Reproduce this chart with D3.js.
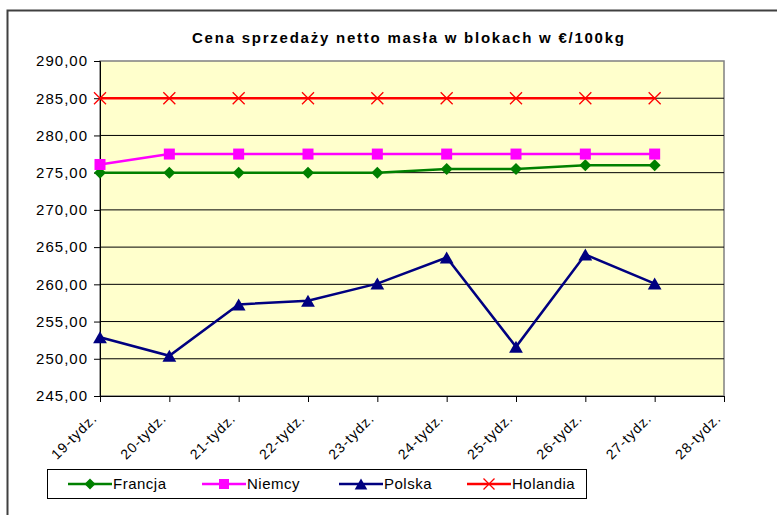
<!DOCTYPE html>
<html>
<head>
<meta charset="utf-8">
<script src="https://cdn.jsdelivr.net/npm/d3@7"></script>
<style>
  body { margin: 0; background: #fff; }
  text { font-family: "Liberation Sans", Arial, sans-serif; }
</style>
</head>
<body>
<div id="chart"></div>
<script>
const weeks = ["19-tydz.", "20-tydz.", "21-tydz.", "22-tydz.", "23-tydz.",
  "24-tydz.", "25-tydz.", "26-tydz.", "27-tydz.", "28-tydz."];
const francja = [275, 275, 275, 275, 275, 275.5, 275.5, 276, 276];
const niemcy = [276.1, 277.5, 277.5, 277.5, 277.5, 277.5, 277.5, 277.5, 277.5];
const polska = [252.9, 250.4, 257.3, 257.8, 260.1, 263.6, 251.6, 264.0, 260.1];
const holandia = [285, 285, 285, 285, 285, 285, 285, 285, 285];
const yTicks = [245, 250, 255, 260, 265, 270, 275, 280, 285, 290];

const series = [
  { name: "Francja", values: francja, color: "#008000", marker: "diamond" },
  { name: "Niemcy", values: niemcy, color: "#ff00ff", marker: "square" },
  { name: "Polska", values: polska, color: "#000080", marker: "triangle" },
  { name: "Holandia", values: holandia, color: "#ff0000", marker: "cross" }
];

const width = 777, height = 515;
const plot = { left: 100, top: 61, right: 724, bottom: 396 };

const svg = d3.select("#chart").append("svg")
  .attr("width", width).attr("height", height);

// outer chart frame (bottom runs off the page)
svg.append("path")
  .attr("d", `M7.5,${height + 5}V10.5H${width + 5}`)
  .attr("fill", "none").attr("stroke", "#404040").attr("stroke-width", 2);

const x = d3.scalePoint().domain(weeks).range([plot.left, plot.right]);
const y = d3.scaleLinear().domain([245, 290]).range([plot.bottom, plot.top]);

svg.append("rect")
  .attr("x", plot.left).attr("y", plot.top)
  .attr("width", plot.right - plot.left).attr("height", plot.bottom - plot.top)
  .attr("fill", "#ffffcc").attr("stroke", "#808080").attr("stroke-width", 1.5);

svg.append("g").selectAll("line")
  .data(yTicks.slice(1, -1))
  .enter().append("line")
  .attr("x1", plot.left).attr("x2", plot.right)
  .attr("y1", (d) => y(d)).attr("y2", (d) => y(d))
  .attr("stroke", "#000").attr("stroke-width", 1);

const fmt = (d) => d.toFixed(2).replace(".", ",");

const yAxis = svg.append("g")
  .attr("transform", `translate(${plot.left},0)`)
  .call(d3.axisLeft(y).tickValues(yTicks).tickFormat(fmt).tickSize(6).tickPadding(6));
yAxis.select(".domain").attr("stroke", "#000");
yAxis.selectAll("text")
  .attr("font-size", 15).attr("fill", "#000")
  .style("letter-spacing", "1px")
  .attr("font-family", "Liberation Sans, Arial, sans-serif");

const xAxis = svg.append("g")
  .attr("transform", `translate(0,${plot.bottom})`)
  .call(d3.axisBottom(x).tickSize(6).tickSizeOuter(0));
xAxis.select(".domain").attr("stroke", "#000");
xAxis.selectAll("text")
  .attr("font-size", 14).attr("fill", "#000")
  .attr("font-family", "Liberation Sans, Arial, sans-serif")
  .style("letter-spacing", "1px")
  .attr("text-anchor", "end")
  .attr("dx", 0).attr("dy", 0)
  .attr("transform", "translate(-9,17) rotate(-45)");

const line = d3.line()
  .x((d, i) => x(weeks[i]))
  .y((d) => y(d));

function drawMarker(g, type, color, size) {
  if (type === "diamond") {
    g.append("path").attr("d", `M0,${-size}L${size},0L0,${size}L${-size},0Z`).attr("fill", color);
  } else if (type === "square") {
    g.append("rect").attr("x", -size).attr("y", -size)
      .attr("width", size * 2).attr("height", size * 2).attr("fill", color);
  } else if (type === "triangle") {
    g.append("path").attr("d", `M0,${-size}L${size * 1.15},${size}L${-size * 1.15},${size}Z`).attr("fill", color);
  } else {
    g.append("path").attr("d", `M${-size},${-size}L${size},${size}M${size},${-size}L${-size},${size}`)
      .attr("stroke", color).attr("stroke-width", 1.3).attr("fill", "none");
  }
}

const markerSize = { diamond: 6, square: 5.5, triangle: 6, cross: 6 };

series.forEach((s) => {
  svg.append("path")
    .datum(s.values)
    .attr("d", line)
    .attr("fill", "none")
    .attr("stroke", s.color)
    .attr("stroke-width", 2.5);

  s.values.forEach((v, i) => {
    const g = svg.append("g").attr("transform", `translate(${x(weeks[i])},${y(v)})`);
    drawMarker(g, s.marker, s.color, markerSize[s.marker]);
  });
});

svg.append("text")
  .attr("x", 408).attr("y", 43)
  .attr("text-anchor", "middle")
  .attr("font-size", 15).attr("font-weight", "bold")
  .attr("textLength", 432).attr("lengthAdjust", "spacing")
  .text("Cena sprzedaży netto masła w blokach w €/100kg");

// legend
const legend = svg.append("g");
legend.append("rect")
  .attr("x", 47.5).attr("y", 469.5).attr("width", 539).attr("height", 29)
  .attr("fill", "#fff").attr("stroke", "#000").attr("stroke-width", 1);

const legendX = [68, 202, 339, 467];
series.forEach((s, i) => {
  const g = legend.append("g").attr("transform", `translate(${legendX[i]},484)`);
  g.append("line").attr("x1", 0).attr("x2", 44)
    .attr("stroke", s.color).attr("stroke-width", 2.5);
  const m = g.append("g").attr("transform", "translate(22,0)");
  drawMarker(m, s.marker, s.color, markerSize[s.marker] - 0.5);
  g.append("text").attr("x", 45).attr("y", 5)
    .attr("font-size", 15).style("letter-spacing", "0.5px")
    .text(s.name);
});
</script>
</body>
</html>
